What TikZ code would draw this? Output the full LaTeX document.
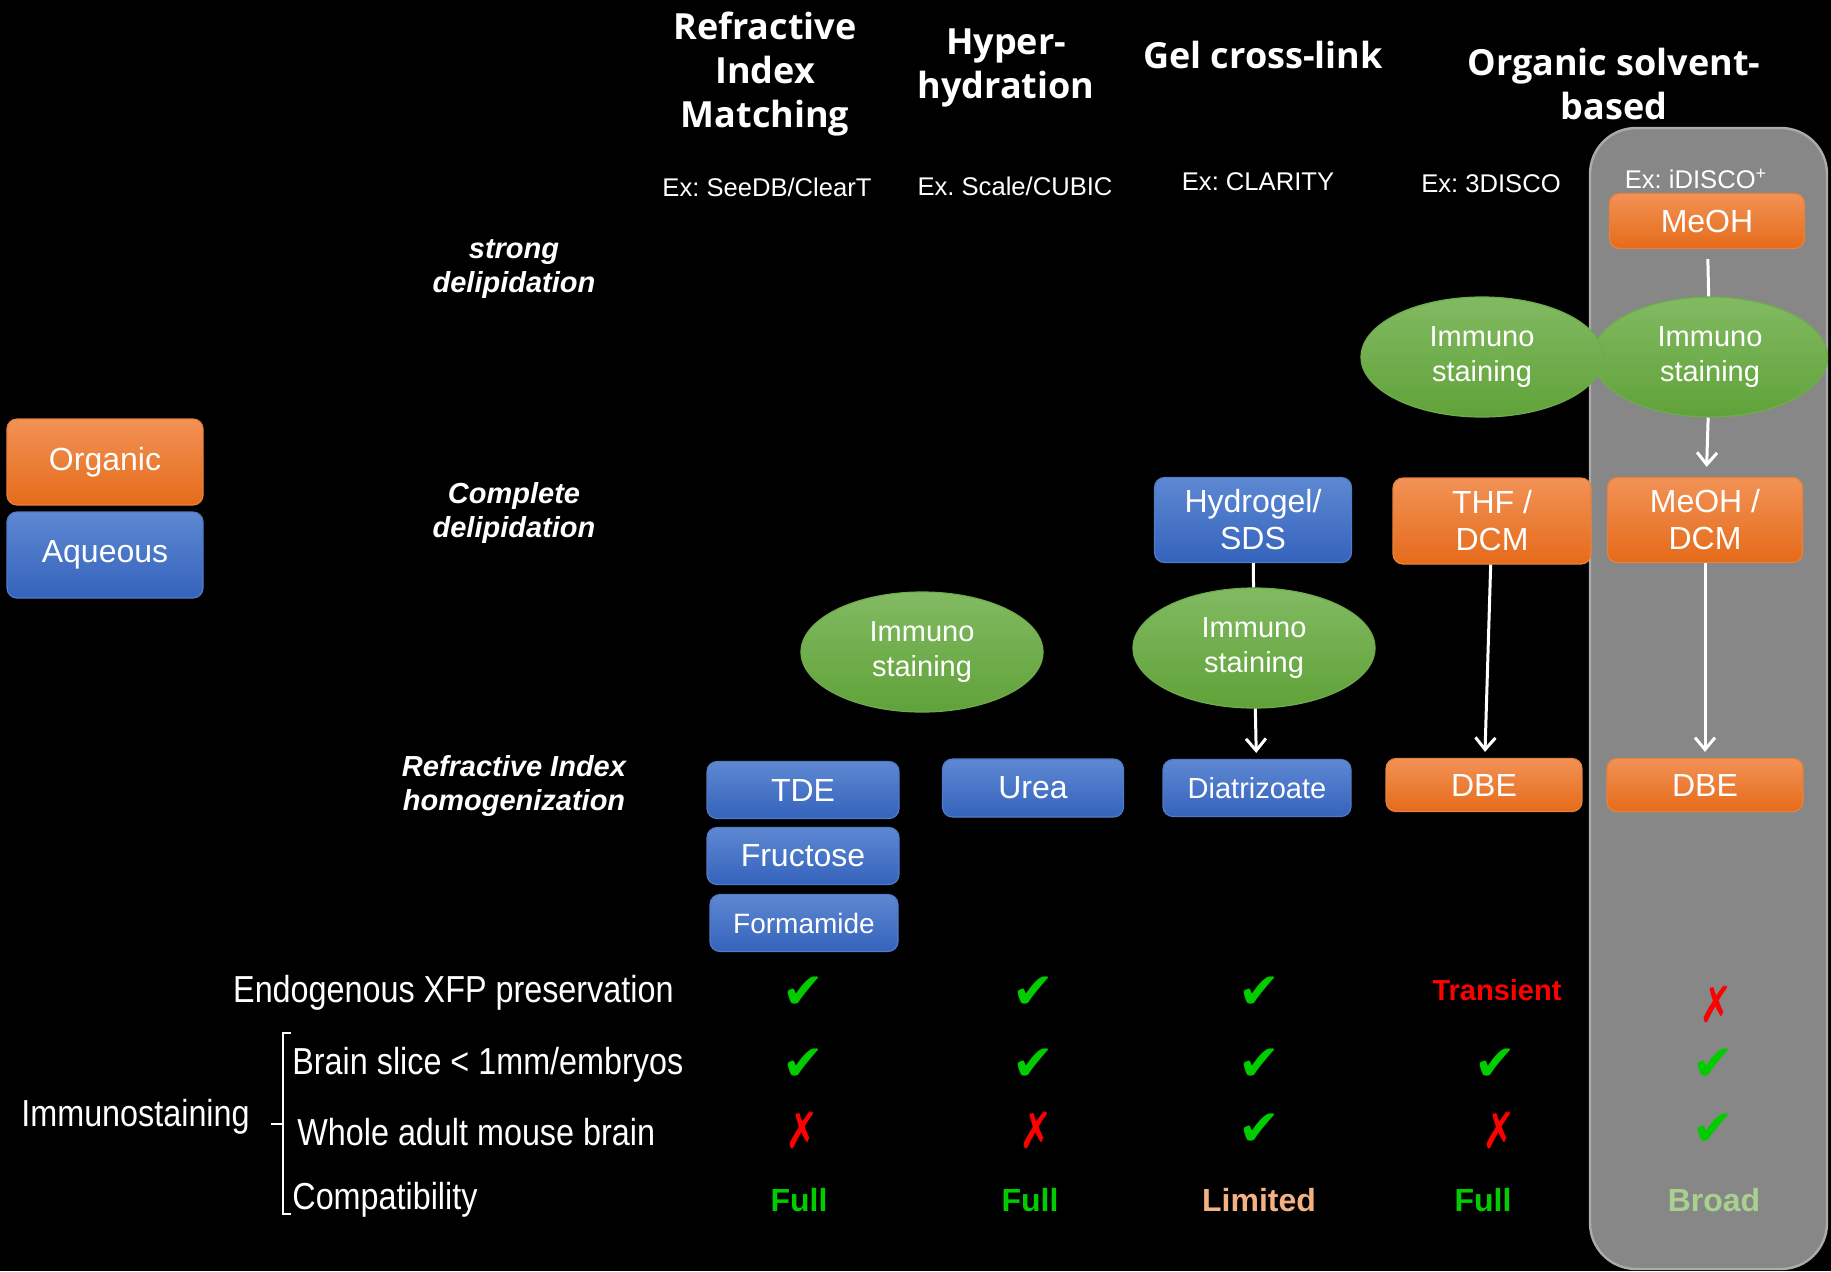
\documentclass[tikz,border=0pt]{standalone}
\usepackage{fontspec}
\setmainfont{Liberation Sans}
\newfontfamily\headfont{Open Sans}
\newfontfamily\narrowfont[FakeStretch=0.86]{Liberation Sans}
\newfontfamily\symfont{DejaVu Sans}
\usetikzlibrary{arrows.meta, shapes.geometric, calc}
\frenchspacing

\definecolor{orgtop}{HTML}{F29256}
\definecolor{orgbot}{HTML}{E56B1A}
\definecolor{aqtop}{HTML}{5E88D2}
\definecolor{aqbot}{HTML}{3463BC}
\definecolor{imtop}{HTML}{82BA62}
\definecolor{imbot}{HTML}{60A239}
\definecolor{panelgrey}{HTML}{878787}
\definecolor{panelline}{HTML}{ABABAB}
\definecolor{chkgreen}{HTML}{00CC00}
\definecolor{crsred}{HTML}{FF0000}
\definecolor{limorange}{HTML}{F4B183}
\definecolor{broadgreen}{HTML}{A9D18E}

\begin{document}
\begin{tikzpicture}[
    x=0.5pt, y=-0.5pt,
    box/.style={rounded corners=5pt, align=center, text=white, inner sep=2pt,
        font=\fontsize{16}{18.5}\selectfont, line width=0.6pt},
    orgbox/.style={box, draw=orgbot!85!white, top color=orgtop, bottom color=orgbot},
    aqbox/.style={box, draw=aqbot!85!white, top color=aqtop, bottom color=aqbot},
    immuno/.style={ellipse, draw=imbot!90!white, line width=0.6pt, top color=imtop, bottom color=imbot,
        minimum width=121pt, minimum height=60pt, inner sep=0pt, align=center, text=white,
        font=\fontsize{14.5}{17.5}\selectfont},
    colhead/.style={align=center, text=white, font=\headfont\bfseries\fontsize{18}{22}\selectfont},
    exlab/.style={text=white, font=\fontsize{12.8}{15}\selectfont},
    stagelab/.style={align=center, text=white, font=\bfseries\itshape\fontsize{14.5}{17}\selectfont},
    rowlab/.style={text=white, inner sep=0pt, font=\narrowfont\fontsize{18.8}{22}\selectfont},
    chk/.style={text=chkgreen, font=\symfont\fontsize{25}{27}\selectfont},
    crs/.style={text=crsred, xscale=0.8, font=\symfont\fontsize{25}{27}\selectfont},
    compat/.style={font=\bfseries\fontsize{16}{18}\selectfont},
    line/.style={draw=white, line width=1.5pt},
    arr/.style={line, -{Straight Barb[length=6pt, width=10pt]}, shorten >=3pt},
]

% ── Canvas ──
\fill[black] (0,0) rectangle (1831,1271);
\useasboundingbox (0,0) rectangle (1831,1271);

% ── Highlight panel (iDISCO+) ──
\draw[panelline, fill=panelgrey, line width=1.2pt, rounded corners=23pt] (1590,128) rectangle (1827,1269);

% ── Legend ──
\node[orgbox, minimum width=98pt, minimum height=43pt] (legorg) at (105,462) {Organic};
\node[aqbox, minimum width=98pt, minimum height=43pt] (legaq) at (105,555) {Aqueous};

% ── Column heads ──
\node[colhead] (hRI) at (765,74) {Refractive\\Index\\Matching};
\node[colhead] (hHyp) at (1006,68) {Hyper-\\hydration};
\node[colhead] (hGel) at (1263,55) {Gel cross-link};
\node[colhead] (hOrg) at (1614,84) {Organic solvent-\\based};

\node[exlab] (exRI) at (767,187) {Ex: SeeDB/ClearT};
\node[exlab] (exHyp) at (1015,186) {Ex. Scale/CUBIC};
\node[exlab] (exGel) at (1258,182) {Ex: CLARITY};
\node[exlab] (exDis) at (1491,184) {Ex: 3DISCO};
\node[exlab] (exIdis) at (1696,179) {Ex: iDISCO\textsuperscript{+}};

% ── Stage labels ──
\node[stagelab] (sStrong) at (514,269) {strong\\delipidation};
\node[stagelab] (sComp) at (514,513) {Complete\\delipidation};
\node[stagelab] (sRI) at (514,786) {Refractive Index\\homogenization};

% ── Refractive index matching ──
\node[aqbox, minimum width=96pt, minimum height=28.5pt] (tde) at (803,790) {TDE};
\node[aqbox, minimum width=96pt, minimum height=28.5pt] (fruc) at (803,856) {Fructose};
\node[aqbox, minimum width=94pt, minimum height=28.5pt, font=\fontsize{14}{16}\selectfont] (form) at (804,923) {Formamide};

% ── Hyperhydration ──
\node[immuno] (imHyp) at (922,652) {Immuno\\staining};
\node[aqbox, minimum width=90.5pt, minimum height=29pt] (urea) at (1033,788) {Urea};

% ── Gel cross-link ──
\node[aqbox, minimum width=98.5pt, minimum height=42.5pt] (hydro) at (1253,520) {Hydrogel/\\SDS};
\node[immuno] (imGel) at (1254,648) {Immuno\\staining};
\node[aqbox, minimum width=94pt, minimum height=28.5pt, font=\fontsize{14.5}{17}\selectfont] (diat) at (1257,788) {Diatrizoate};

% ── 3DISCO ──
\node[immuno, minimum width=117.5pt] (imID) at (1710,357) {Immuno\\staining};
\node[immuno] (imDis) at (1482,357) {Immuno\\staining};
\node[orgbox, minimum width=99pt, minimum height=43pt] (thf) at (1492,521) {THF /\\DCM};
\node[orgbox, minimum width=98pt, minimum height=26.5pt] (dbeDis) at (1484,785) {DBE};

% ── iDISCO+ ──
\node[orgbox, minimum width=97.5pt, minimum height=27.5pt] (meoh) at (1707,221) {MeOH};
\node[orgbox, minimum width=97.5pt, minimum height=42.5pt] (meohdcm) at (1705,520) {MeOH /\\DCM};
\node[orgbox, minimum width=98pt, minimum height=26.5pt] (dbeID) at (1705,785) {DBE};

% ── Connectors ──
\draw[line] (hydro) -- (imGel);
\draw[arr] (imGel) -- (diat);
\draw[line, shorten <=5pt] (meoh) -- (imID);
\draw[arr, shorten >=5pt] (imID) -- (meohdcm);
\draw[arr] (thf) -- (dbeDis);
\draw[arr] (meohdcm) -- (dbeID);

% ── Row labels ──
\node[rowlab, anchor=east] (rXFP) at (674,993) {Endogenous XFP preservation};
\node[rowlab, anchor=west] (rSlice) at (292,1065) {Brain slice < 1mm/embryos};
\node[rowlab, anchor=west] (rWhole) at (297,1132) {Whole adult mouse brain};
\node[rowlab, anchor=west] (rComp) at (292,1200) {Compatibility};
\node[rowlab, anchor=west] (rImm) at (21,1117) {Immunostaining};
\coordinate (brTop) at (283,1033);
\coordinate (brBot) at (283,1214);
\draw[white, line width=1pt] ($(brTop)+(8,0)$) -- (brTop) -- (brBot) -- ++(8,0);
\draw[white, line width=1pt] (283,1124) -- (271,1124);

% ── Endogenous XFP ──
\node[chk] (c11) at (803,993) {✔};
\node[chk] (c12) at (1033,993) {✔};
\node[chk] (c13) at (1259,993) {✔};
\node[text=crsred, font=\bfseries\fontsize{14.5}{17}\selectfont] (c14) at (1497,990) {Transient};
\node[crs] (c15) at (1716,1004) {✗};

% ── Brain slice ──
\node[chk] (c21) at (803,1065) {✔};
\node[chk] (c22) at (1033,1065) {✔};
\node[chk] (c23) at (1259,1065) {✔};
\node[chk] (c24) at (1495,1065) {✔};
\node[chk] (c25) at (1713,1065) {✔};

% ── Whole brain ──
\node[crs] (c31) at (802,1130) {✗};
\node[crs] (c32) at (1036,1130) {✗};
\node[chk] (c33) at (1259,1130) {✔};
\node[crs] (c34) at (1499,1130) {✗};
\node[chk] (c35) at (1713,1130) {✔};

% ── Compatibility ──
\node[compat, text=chkgreen] (c41) at (799,1200) {Full};
\node[compat, text=chkgreen] (c42) at (1030,1200) {Full};
\node[compat, text=limorange] (c43) at (1259,1200) {Limited};
\node[compat, text=chkgreen] (c44) at (1483,1200) {Full};
\node[compat, text=broadgreen] (c45) at (1714,1200) {Broad};

\end{tikzpicture}
\end{document}
